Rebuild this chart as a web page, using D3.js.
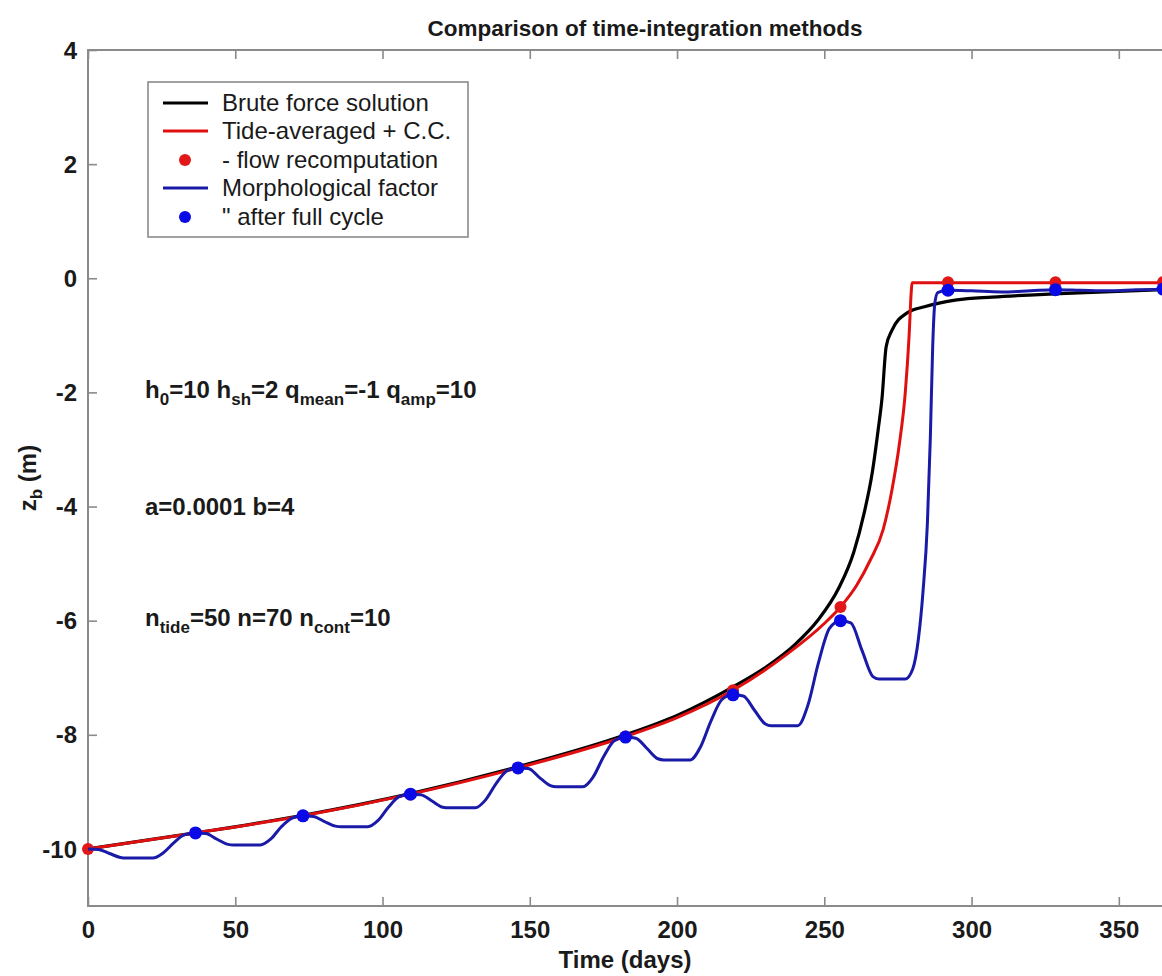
<!DOCTYPE html>
<html>
<head>
<meta charset="utf-8">
<script src="https://cdn.jsdelivr.net/npm/d3@7/dist/d3.min.js"></script>
<style>
html,body{margin:0;padding:0;background:#fff;overflow:hidden;}
svg{display:block;}
text{font-family:"Liberation Sans",Arial,Helvetica,sans-serif;fill:#1a1a1a;}
</style>
</head>
<body>
<script>
// ---------------- data ----------------
const title = "Comparison of time-integration methods";
const xLabel = "Time (days)";
const xTicks = [0, 50, 100, 150, 200, 250, 300, 350];
const yTicks = [-10, -8, -6, -4, -2, 0, 2, 4];
const xDomain = [0, 365];
const yDomain = [-11, 4];

// Brute force solution (black)
const bruteT = [0, 36.5, 73, 109.5, 146, 182.5, 200, 219, 230, 240, 248, 255, 260, 263.5, 266.3, 268.3, 269.6, 271, 273, 278, 284, 295, 307, 330, 365];
const bruteZ = [-10, -9.72, -9.41, -9.03, -8.56, -8.00, -7.66, -7.16, -6.82, -6.42, -5.98, -5.42, -4.80, -4.12, -3.40, -2.65, -2.1, -1.2, -0.91, -0.61, -0.5, -0.38, -0.33, -0.27, -0.2];

// Tide-averaged + C.C. (red)
const tideT = [0, 36.5, 73, 109.5, 146, 182.5, 200, 219, 237, 250, 255.5, 261, 265.5, 270, 273, 275.5, 277.5, 278.8, 279.5, 279.8, 365];
const tideZ = [-10, -9.72, -9.42, -9.04, -8.58, -8.03, -7.70, -7.22, -6.60, -6.05, -5.76, -5.38, -4.95, -4.40, -3.70, -2.90, -2.00, -1.00, -0.25, -0.08, -0.08];

// - flow recomputation (red dots)
const flowT = [0, 36.5, 73, 109.5, 146, 182.5, 219, 255.5, 292, 328.5, 365];
const flowZ = [-10, -9.72, -9.42, -9.04, -8.58, -8.03, -7.22, -5.76, -0.07, -0.07, -0.07];

// Morphological factor (blue)
const morT = [0, 3.5, 7.3, 11, 13, 22, 25.5, 29, 32.8,
  36.5, 40, 43.8, 47.5, 49.5, 58.5, 62, 65.5, 69.3,
  73, 76.5, 80.3, 84, 86, 95, 98.5, 102, 105.8,
  109.5, 113, 116.8, 120.5, 122.5, 131.5, 135, 138.5, 142.3,
  146, 149.5, 153.3, 157, 159, 168, 171.5, 175, 178.8,
  182.5, 186, 189.8, 193.5, 195.5, 204.5, 208, 211.5, 215.3,
  219, 222.5, 226.3, 230, 232, 241, 244.5, 248, 251.8,
  255.5, 259, 262.8, 266.5, 268.5, 277.5, 280, 282, 283.5, 285, 286, 286.8, 287.5, 288.5,
  292, 300, 310, 320, 328.5, 337, 347, 356, 365];
const morZ = [-10, -10.01, -10.08, -10.15, -10.16, -10.16, -10.07, -9.90, -9.75,
  -9.72, -9.73, -9.83, -9.92, -9.93, -9.93, -9.83, -9.62, -9.46,
  -9.42, -9.43, -9.52, -9.60, -9.61, -9.61, -9.50, -9.27, -9.08,
  -9.04, -9.05, -9.16, -9.27, -9.28, -9.28, -9.14, -8.86, -8.63,
  -8.58, -8.59, -8.75, -8.89, -8.91, -8.91, -8.74, -8.39, -8.10,
  -8.04, -8.06, -8.24, -8.42, -8.44, -8.44, -8.21, -7.76, -7.38,
  -7.30, -7.32, -7.57, -7.81, -7.84, -7.84, -7.47, -6.74, -6.13,
  -6.00, -6.04, -6.52, -6.98, -7.02, -7.02, -6.85, -6.30, -5.50, -4.30, -2.80, -1.20, -0.45, -0.25,
  -0.21, -0.22, -0.24, -0.22, -0.20, -0.21, -0.22, -0.20, -0.19];

// " after full cycle (blue dots)
const cycT = [36.5, 73, 109.5, 146, 182.5, 219, 255.5, 292, 328.5, 365];
const cycZ = [-9.72, -9.42, -9.04, -8.58, -8.04, -7.30, -6.00, -0.21, -0.20, -0.19];

const legendLabels = ["Brute force solution", "Tide-averaged + C.C.", " - flow recomputation", "Morphological factor", " \" after full cycle"];

// ---------------- layout ----------------
const W = 1162, H = 976;
const m = {left: 88, top: 50, right: 1163, bottom: 906};
const colBlack = "#000000", colRed = "#e01010", colBlue = "#1a1aa8", colBlueDot = "#0a0ae6", colRedDot = "#e21818";
const frameCol = "#8a8a8a";

const svg = d3.select("body").append("svg").attr("width", W).attr("height", H);
const x = d3.scaleLinear().domain(xDomain).range([m.left, m.right]);
const y = d3.scaleLinear().domain(yDomain).range([m.bottom, m.top]);

// frame
svg.append("rect").attr("x", m.left).attr("y", m.top)
  .attr("width", m.right - m.left).attr("height", m.bottom - m.top)
  .attr("fill", "none").attr("stroke", frameCol).attr("stroke-width", 2);

// axes with inward ticks
const tickLen = 9;
const fmt = d => String(d);
const gx = svg.append("g").attr("transform", `translate(0,${m.bottom})`)
  .call(d3.axisBottom(x).tickValues(xTicks).tickSizeInner(-tickLen).tickSizeOuter(0).tickPadding(15).tickFormat(fmt));
const gxTop = svg.append("g").attr("transform", `translate(0,${m.top})`)
  .call(d3.axisTop(x).tickValues(xTicks).tickSizeInner(-tickLen).tickSizeOuter(0).tickFormat(""));
const gy = svg.append("g").attr("transform", `translate(${m.left},0)`)
  .call(d3.axisLeft(y).tickValues(yTicks).tickSizeInner(-tickLen).tickSizeOuter(0).tickPadding(11).tickFormat(fmt));
[gx, gxTop, gy].forEach(g => {
  g.select(".domain").remove();
  g.selectAll(".tick line").attr("stroke", frameCol).attr("stroke-width", 1.6);
  g.selectAll(".tick text").attr("font-size", 24).attr("font-weight", "bold").attr("fill", "#1a1a1a")
    .style("font-family", "'Liberation Sans', Arial, sans-serif");
});
gx.selectAll(".tick text").attr("dy", "0.71em");
gy.selectAll(".tick text").attr("dy", "0.34em");

// lines
const line = d3.line().x(d => x(d[0])).y(d => y(d[1])).curve(d3.curveMonotoneX);
const zip = (a, b) => a.map((v, i) => [v, b[i]]);

svg.append("path").datum(zip(bruteT, bruteZ)).attr("d", line)
  .attr("fill", "none").attr("stroke", colBlack).attr("stroke-width", 3.2);
svg.append("path").datum(zip(tideT, tideZ)).attr("d", line)
  .attr("fill", "none").attr("stroke", colRed).attr("stroke-width", 3);
svg.append("g").selectAll("circle").data(zip(flowT, flowZ)).join("circle")
  .attr("cx", d => x(d[0])).attr("cy", d => y(d[1])).attr("r", 6).attr("fill", colRedDot);
svg.append("path").datum(zip(morT, morZ)).attr("d", line)
  .attr("fill", "none").attr("stroke", colBlue).attr("stroke-width", 3);
svg.append("g").selectAll("circle").data(zip(cycT, cycZ)).join("circle")
  .attr("cx", d => x(d[0])).attr("cy", d => y(d[1])).attr("r", 6.5).attr("fill", colBlueDot);

// title & axis labels
svg.append("text").attr("x", 645).attr("y", 36).attr("text-anchor", "middle")
  .attr("font-size", 22.5).attr("font-weight", "bold").text(title);
svg.append("text").attr("x", 625).attr("y", 968).attr("text-anchor", "middle")
  .attr("font-size", 24).attr("font-weight", "bold").text(xLabel);
const yl = svg.append("text").attr("transform", "translate(36,478) rotate(-90)")
  .attr("text-anchor", "middle").attr("font-size", 24).attr("font-weight", "bold");
yl.append("tspan").text("z");
yl.append("tspan").attr("font-size", 17).attr("dy", 6).text("b");
yl.append("tspan").attr("dy", -6).text(" (m)");

// annotations with subscripts
function annot(yPos, parts) {
  const t = svg.append("text").attr("x", 145).attr("y", yPos).attr("font-size", 24).attr("font-weight", "bold");
  let shifted = false;
  parts.forEach(p => {
    const ts = t.append("tspan").text(p[0]);
    if (p[1]) { ts.attr("font-size", 17).attr("dy", shifted ? 0 : 7); shifted = true; }
    else { if (shifted) ts.attr("dy", -7); shifted = false; }
  });
}
annot(398, [["h"], ["0", 1], ["=10 h"], ["sh", 1], ["=2 q"], ["mean", 1], ["=-1 q"], ["amp", 1], ["=10"]]);
annot(515, [["a=0.0001 b=4"]]);
annot(626, [["n"], ["tide", 1], ["=50 n=70 n"], ["cont", 1], ["=10"]]);

// legend
const lg = svg.append("g");
lg.append("rect").attr("x", 148).attr("y", 82).attr("width", 320).attr("height", 155)
  .attr("fill", "#fff").attr("stroke", frameCol).attr("stroke-width", 1.6);
const rowsY = [103, 131, 160, 188, 217];
const kinds = [["line", colBlack], ["line", colRed], ["dot", colRedDot], ["line", colBlue], ["dot", colBlueDot]];
kinds.forEach((k, i) => {
  if (k[0] === "line") {
    lg.append("line").attr("x1", 163).attr("x2", 208).attr("y1", rowsY[i]).attr("y2", rowsY[i])
      .attr("stroke", k[1]).attr("stroke-width", 3.2);
  } else {
    lg.append("circle").attr("cx", 185).attr("cy", rowsY[i]).attr("r", 6).attr("fill", k[1]);
  }
  lg.append("text").attr("x", 222).attr("y", rowsY[i]).attr("dy", "0.35em")
    .attr("font-size", 24).attr("fill", "#2a2a2a").text(legendLabels[i]);
});
</script>
</body>
</html>
